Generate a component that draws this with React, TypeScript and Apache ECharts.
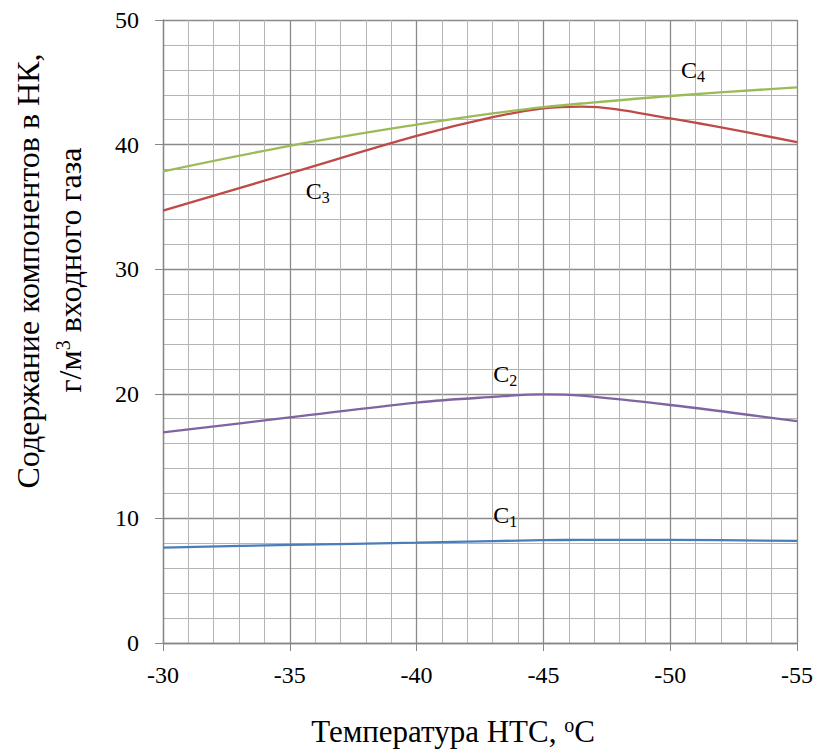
import React, { useEffect, useRef } from "react";
import * as echarts from "echarts";

// Temperature of the low-temperature separation stage, °C
const temps = [-30, -35, -40, -43, -45, -46.5, -50, -55];

// Component content in the unstable condensate, g/m³ of inlet gas
const c1 = [7.65, 7.87, 8.05, 8.18, 8.25, 8.27, 8.27, 8.2];
const c2 = [16.9, 18.1, 19.3, 19.75, 19.95, 19.85, 19.1, 17.8];
const c3 = [34.7, 37.7, 40.7, 42.2, 42.9, 43.05, 42.1, 40.2];
const c4 = [37.85, 39.9, 41.6, 42.5, 43.0, 43.3, 43.9, 44.6];

const seriesNames = ["1", "2", "3", "4"];
const seriesColors = ["#4A7EBB", "#8064A2", "#BE4B48", "#9BBB59"];
// Curve caption anchors [temperature, content]
const captionAt: [number, number][] = [
  [-43.5, 10.3],
  [-43.5, 21.6],
  [-36.1, 36.3],
  [-50.9, 46.0],
];

const xTicks = [-30, -35, -40, -45, -50, -55];
const FONT = "Liberation Serif";

export default function App() {
  const ref = useRef<HTMLDivElement>(null);

  useEffect(() => {
    if (!ref.current) return;
    const chart = echarts.init(ref.current, undefined, { renderer: "svg" });
    const all = [c1, c2, c3, c4];

    const series = all.map((vals, i) => ({
      type: "line",
      name: "C" + seriesNames[i],
      data: temps.map((t, k) => [t, vals[k]]),
      smooth: 0.35,
      symbol: "none",
      lineStyle: { color: seriesColors[i], width: 2.3 },
      markPoint: {
        symbol: "circle",
        symbolSize: 0,
        data: [
          {
            coord: captionAt[i],
            label: {
              show: true,
              position: "inside",
              formatter: "{c|C}{s|" + seriesNames[i] + "}",
              rich: {
                c: { fontFamily: FONT, fontSize: 24, color: "#000" },
                s: {
                  fontFamily: FONT,
                  fontSize: 16,
                  color: "#000",
                  padding: [14, 0, 0, 0],
                },
              },
            },
          },
        ],
      },
    }));

    chart.setOption({
      animation: false,
      backgroundColor: "#fff",
      grid: { left: 163, right: 24, top: 20, bottom: 110, containLabel: false },
      xAxis: {
        type: "value",
        min: -55,
        max: -30,
        interval: 5,
        inverse: true,
        axisLine: { show: true, lineStyle: { color: "#868686", width: 1.3 } },
        axisTick: { show: true, length: 8, lineStyle: { color: "#868686" } },
        axisLabel: {
          color: "#000",
          fontFamily: FONT,
          fontSize: 24,
          margin: 20,
          formatter: (v: number) => (xTicks.includes(v) ? String(v) : ""),
        },
        splitLine: { show: true, lineStyle: { color: "#8a8a8a", width: 1.3 } },
        minorTick: { show: false, splitNumber: 5 },
        minorSplitLine: { show: true, lineStyle: { color: "#b4b4b4", width: 1 } },
      },
      yAxis: {
        type: "value",
        min: 0,
        max: 50,
        interval: 10,
        axisLine: { show: true, lineStyle: { color: "#868686", width: 1.3 } },
        axisTick: { show: true, length: 8, lineStyle: { color: "#868686" } },
        axisLabel: {
          color: "#000",
          fontFamily: FONT,
          fontSize: 24,
          margin: 24,
        },
        splitLine: { show: true, lineStyle: { color: "#8a8a8a", width: 1.3 } },
        minorTick: { show: false, splitNumber: 5 },
        minorSplitLine: { show: true, lineStyle: { color: "#b4b4b4", width: 1 } },
      },
      series,
      graphic: [
        {
          type: "text",
          x: 28,
          y: 271,
          rotation: Math.PI / 2,
          style: {
            text: "Содержание компонентов в НК,",
            fontFamily: FONT,
            fontSize: 32,
            fill: "#000",
            align: "center",
            verticalAlign: "middle",
          },
        },
        {
          type: "text",
          x: 70,
          y: 270,
          rotation: Math.PI / 2,
          style: {
            text: "{t|г/м}{p|3}{t| входного газа}",
            align: "center",
            verticalAlign: "middle",
            rich: {
              t: { fontFamily: FONT, fontSize: 32, fill: "#000" },
              p: { fontFamily: FONT, fontSize: 20, fill: "#000", padding: [0, 0, 14, 0] },
            },
          },
        },
        {
          type: "text",
          x: 453,
          y: 731,
          style: {
            text: "{t|Температура НТС, }{p|o}{t|C}",
            align: "center",
            verticalAlign: "middle",
            rich: {
              t: { fontFamily: FONT, fontSize: 31, fill: "#000" },
              p: { fontFamily: FONT, fontSize: 20, fill: "#000", padding: [0, 0, 12, 0] },
            },
          },
        },
      ],
    });

    return () => chart.dispose();
  }, []);

  return (
    <div
      ref={ref}
      style={{ position: "fixed", left: 0, top: 0, width: 821, height: 753 }}
    />
  );
}
